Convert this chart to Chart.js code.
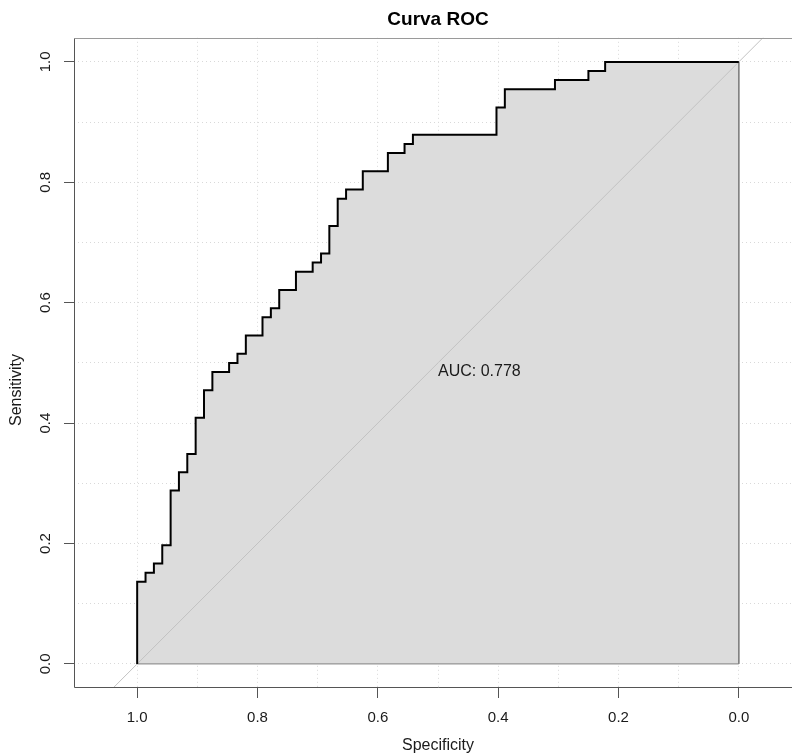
<!DOCTYPE html>
<html>
<head>
<meta charset="utf-8">
<title>Curva ROC</title>
<script src="https://cdn.jsdelivr.net/npm/chart.js@4.4.1/dist/chart.umd.min.js"></script>
<style>
  html, body { margin: 0; padding: 0; background: #fff; overflow: hidden; }
  #wrap { width: 792px; height: 756px; overflow: hidden; }
</style>
</head>
<body>
<div id="wrap"><canvas id="rocChart" width="812" height="756"></canvas></div>
<script>
// corner points of the ROC steps (specificity, sensitivity)
const specificity = [1.0000, 1.0000, 0.9861, 0.9722, 0.9583, 0.9444, 0.9306, 0.9167, 0.9028, 0.8889, 0.8750,
  0.8472, 0.8333, 0.8194, 0.7917, 0.7778, 0.7639, 0.7361, 0.7083, 0.6944, 0.6806, 0.6667, 0.6528,
  0.6250, 0.5833, 0.5556, 0.5417, 0.4028, 0.3889, 0.3056, 0.2500, 0.2222, 0.0000];
const sensitivity = [0.0000, 0.1364, 0.1515, 0.1667, 0.1970, 0.2879, 0.3182, 0.3485, 0.4091, 0.4545, 0.4848,
  0.5000, 0.5152, 0.5455, 0.5758, 0.5909, 0.6212, 0.6515, 0.6667, 0.6818, 0.7273, 0.7727, 0.7879,
  0.8182, 0.8485, 0.8636, 0.8788, 0.9242, 0.9545, 0.9697, 0.9848, 1.0000, 1.0000];
const aucValue = 0.778;

// chance line (sens = 1 - spec), clipped by the plot area
const chanceSpec = [1.1, -0.1];
const chanceSens = [-0.1, 1.1];

const gridTicks = [0, 0.1, 0.2, 0.3, 0.4, 0.5, 0.6, 0.7, 0.8, 0.9, 1.0];
const labelTicks = [0, 0.2, 0.4, 0.6, 0.8, 1.0];

const FONT = 'Liberation Sans';
Chart.defaults.font.family = FONT;
Chart.defaults.color = '#1a1a1a';

function isLabelled(v) {
  return labelTicks.some(t => Math.abs(t - v) < 1e-9);
}

const rocPoints = specificity.map((s, i) => ({ x: s, y: sensitivity[i] }));
const last = rocPoints.length - 1;

// plot box, y axis label and the AUC text
const boxAndAuc = {
  id: 'boxAndAuc',
  afterDatasetsDraw(chart) {
    const { ctx, chartArea: a, scales } = chart;
    const top = Math.round(a.top) + 0.5;
    const left = Math.round(a.left) + 0.5;
    const bottom = Math.round(a.bottom) - 0.5;
    ctx.save();
    ctx.lineWidth = 1;
    ctx.strokeStyle = '#9a9a9a';
    ctx.beginPath();
    ctx.moveTo(left, top);
    ctx.lineTo(a.right, top);
    ctx.stroke();
    ctx.strokeStyle = '#555';
    ctx.beginPath();
    ctx.moveTo(left, top);
    ctx.lineTo(left, bottom);
    ctx.lineTo(a.right, bottom);
    ctx.stroke();

    ctx.font = '16px "' + FONT + '"';
    ctx.fillStyle = '#1a1a1a';
    ctx.textAlign = 'left';
    ctx.textBaseline = 'top';
    ctx.fillText('AUC: ' + aucValue.toFixed(3),
      scales.x.getPixelForValue(0.5), scales.y.getPixelForValue(0.5) + 1);

    // y axis title, sits a bit below the plot centre like the original
    ctx.save();
    ctx.translate(17, 390);
    ctx.rotate(-Math.PI / 2);
    ctx.textAlign = 'center';
    ctx.textBaseline = 'middle';
    ctx.fillText('Sensitivity', 0, 0);
    ctx.restore();
    ctx.restore();
  }
};

function axisOptions(titleText) {
  return {
    type: 'linear',
    afterBuildTicks: scale => { scale.ticks = gridTicks.map(v => ({ value: v })); },
    grid: {
      color: '#d9d9d9',
      lineWidth: 1,
      tickLength: 10,
      tickColor: ctx => (ctx.tick && isLabelled(ctx.tick.value)) ? '#555' : 'rgba(0,0,0,0)',
      tickBorderDash: []
    },
    border: { display: false, dash: [1, 3] },
    ticks: {
      autoSkip: false,
      font: { size: 15 },
      color: '#1a1a1a',
      callback: v => isLabelled(v) ? v.toFixed(1) : ''
    },
    title: { display: true, text: titleText, font: { size: 16 }, color: '#1a1a1a' }
  };
}

const xAxis = axisOptions('Specificity');
xAxis.reverse = true;
xAxis.min = -0.105;
xAxis.max = 1.105;
xAxis.ticks.padding = 11;
xAxis.ticks.maxRotation = 0;
xAxis.title.padding = { top: 0, bottom: 1 };
xAxis.afterFit = scale => { scale.height = 68; };

const yAxis = axisOptions('Sensitivity');
yAxis.min = -0.04;
yAxis.max = 1.04;
yAxis.ticks.padding = 8;
yAxis.ticks.minRotation = 90;
yAxis.ticks.maxRotation = 90;
yAxis.ticks.crossAlign = 'center';
yAxis.title.display = false;
yAxis.afterFit = scale => { scale.width = 74; };

new Chart(document.getElementById('rocChart'), {
  type: 'line',
  data: {
    datasets: [
      {
        label: 'ROC',
        data: rocPoints,
        stepped: 'before',
        borderColor: '#000',
        borderWidth: 2,
        pointRadius: 0,
        fill: false,
        order: 0
      },
      {
        label: 'polygon edge',
        data: [
          { x: specificity[last], y: sensitivity[last] },
          { x: specificity[last], y: 0 },
          { x: specificity[0], y: 0 }
        ],
        borderColor: '#808080',
        borderWidth: 1,
        pointRadius: 0,
        fill: false,
        order: 1
      },
      {
        label: 'chance',
        data: chanceSpec.map((s, i) => ({ x: s, y: chanceSens[i] })),
        borderColor: '#c2c2c2',
        borderWidth: 1,
        pointRadius: 0,
        fill: false,
        order: 2
      },
      {
        label: 'AUC area',
        data: rocPoints,
        stepped: 'before',
        borderColor: 'rgba(0,0,0,0)',
        borderWidth: 0,
        backgroundColor: '#dcdcdc',
        pointRadius: 0,
        fill: 'origin',
        order: 3
      }
    ]
  },
  options: {
    responsive: false,
    animation: false,
    devicePixelRatio: 1,
    layout: { padding: { left: 0, right: 10, top: 0, bottom: 0 } },
    plugins: {
      legend: { display: false },
      tooltip: { enabled: false },
      title: {
        display: true,
        text: 'Curva ROC',
        fullSize: false,
        color: '#000',
        font: { size: 19, weight: 'bold' },
        padding: { top: 8, bottom: 7 }
      }
    },
    scales: { x: xAxis, y: yAxis }
  },
  plugins: [boxAndAuc]
});
</script>
</body>
</html>
